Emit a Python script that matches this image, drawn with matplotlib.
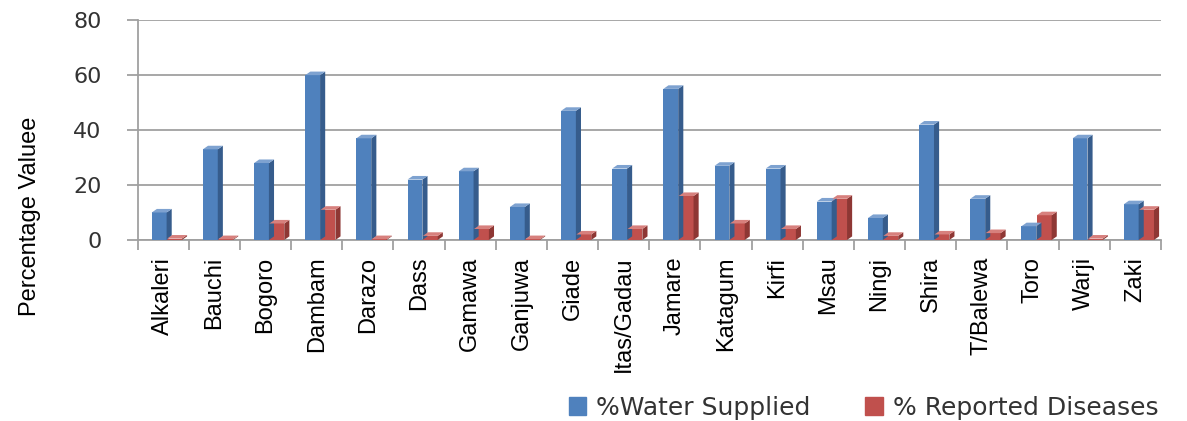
import matplotlib.pyplot as plt
from matplotlib.patches import Polygon, Patch
import numpy as np

# === Data ===
lgas = ["Alkaleri", "Bauchi", "Bogoro", "Dambam", "Darazo", "Dass", "Gamawa",
        "Ganjuwa", "Giade", "Itas/Gadau", "Jamare", "Katagum", "Kirfi", "Msau",
        "Ningi", "Shira", "T/Balewa", "Toro", "Warji", "Zaki"]
water_supplied = [10, 33, 28, 60, 37, 22, 25, 12, 47, 26, 55, 27, 26, 14,
                  8, 42, 15, 5, 37, 13]
reported_diseases = [0.5, 0.3, 6, 11, 0.3, 1.5, 4, 0.3, 2, 4, 16, 6, 4, 15,
                     1.5, 2, 2.5, 9, 0.5, 11]

# === Styles ===
blue = ("#4F81BD", "#365C8C", "#7EA2D0")
red = ("#C0504D", "#8E3734", "#D7807D")
narrow = ["Liberation Sans Narrow", "Liberation Sans", "DejaVu Sans"]
grid_c = "#A0A0A0"

fig = plt.figure(figsize=(11.87, 4.21), dpi=100)
ax = fig.add_axes([0.116, 0.43, 0.862, 0.522])

x = np.arange(len(lgas))
w = 0.29
b1 = ax.bar(x - 0.08, water_supplied, w, color=blue[0], zorder=3)
b2 = ax.bar(x + 0.22, reported_diseases, w, color=red[0], zorder=3)


# fake 3D: a dark side face and a light top face on each bar
def add_depth(bars, cols, dx=0.1, dy=1.3):
    for p in bars:
        x0, y0 = p.get_x(), p.get_y()
        x1, y1 = x0 + p.get_width(), y0 + p.get_height()
        side = Polygon([(x1, y0), (x1 + dx, y0 + dy), (x1 + dx, y1 + dy), (x1, y1)],
                       closed=True, color=cols[1], zorder=3, lw=0)
        top = Polygon([(x0, y1), (x0 + dx, y1 + dy), (x1 + dx, y1 + dy), (x1, y1)],
                      closed=True, color=cols[2], zorder=3, lw=0)
        ax.add_patch(side)
        ax.add_patch(top)


add_depth(b1, blue)
add_depth(b2, red)

ax.set_xlim(-0.5, len(lgas) - 0.5)
ax.set_ylim(0, 80)
ax.set_yticks([0, 20, 40, 60, 80])
ax.yaxis.grid(True, color=grid_c, lw=1.3, zorder=0)
ax.tick_params(axis="y", labelsize=16, length=8, width=1.3,
               color=grid_c, pad=18)
for t in ax.get_yticklabels():
    t.set_color("#333333")

ax.set_xticks(x)
ax.set_xticklabels(lgas, rotation=90, family=narrow, fontsize=17)
ax.set_xticks(np.arange(len(lgas) + 1) - 0.5, minor=True)
ax.tick_params(axis="x", which="major", length=0, pad=12)
ax.tick_params(axis="x", which="minor", length=7, width=1.3, color=grid_c)

for s in ["top", "right"]:
    ax.spines[s].set_visible(False)
for s in ["left", "bottom"]:
    ax.spines[s].set_color(grid_c)
    ax.spines[s].set_linewidth(1.3)

fig.text(30 / 1187, 1 - 216 / 421, "Percentage Valuee", family=narrow, fontsize=17,
         rotation=90, ha="center", va="center")

handles = [Patch(color=blue[0]), Patch(color=red[0])]
fig.legend(handles, ["%Water Supplied", "% Reported Diseases"], loc="lower right",
           bbox_to_anchor=(0.995, -0.05), ncol=2, frameon=False, fontsize=18,
           handlelength=0.7, handleheight=0.7, handletextpad=0.4, columnspacing=2.2,
           labelcolor="#333333")

fig.savefig("out.png", dpi=100)
